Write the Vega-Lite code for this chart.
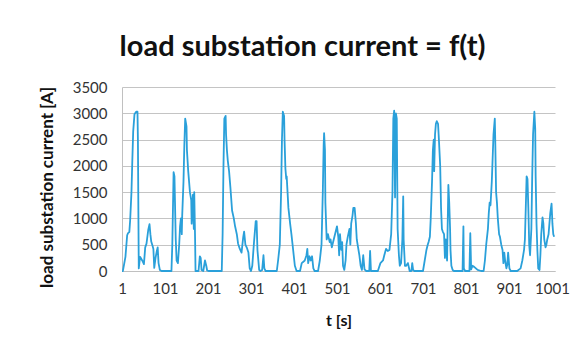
{
  "$schema": "https://vega.github.io/schema/vega-lite/v6.json",
  "width": 433,
  "height": 184,
  "autosize": "none",
  "padding": {"left": 122, "top": 87, "right": 30, "bottom": 82},
  "background": "white",
  "title": {
    "text": "load substation current = f(t)",
    "font": "Lato",
    "fontSize": 29,
    "fontWeight": "bold",
    "color": "#111111",
    "anchor": "middle",
    "dx": -36,
    "offset": 18
  },
  "data": {
    "values": [
      {"t": 1, "current": 0}, {"t": 3, "current": 0}, {"t": 9, "current": 270}, {"t": 13, "current": 680},
      {"t": 15, "current": 720}, {"t": 18, "current": 740}, {"t": 20, "current": 970}, {"t": 23, "current": 1500},
      {"t": 25, "current": 2100}, {"t": 27, "current": 2650}, {"t": 30, "current": 2980}, {"t": 34, "current": 3030},
      {"t": 37, "current": 3030}, {"t": 38, "current": 2500}, {"t": 40, "current": 50}, {"t": 43, "current": 270},
      {"t": 48, "current": 200}, {"t": 52, "current": 130}, {"t": 55, "current": 450}, {"t": 58, "current": 520},
      {"t": 62, "current": 780}, {"t": 65, "current": 890}, {"t": 67, "current": 700}, {"t": 69, "current": 560},
      {"t": 72, "current": 480}, {"t": 74, "current": 420}, {"t": 76, "current": 60}, {"t": 79, "current": 250},
      {"t": 82, "current": 380}, {"t": 84, "current": 450}, {"t": 86, "current": 150}, {"t": 89, "current": 20},
      {"t": 93, "current": 0}, {"t": 116, "current": 0}, {"t": 118, "current": 500}, {"t": 121, "current": 1880},
      {"t": 123, "current": 1800}, {"t": 126, "current": 600}, {"t": 128, "current": 200}, {"t": 131, "current": 150},
      {"t": 134, "current": 500}, {"t": 136, "current": 850}, {"t": 138, "current": 1000}, {"t": 140, "current": 700},
      {"t": 141, "current": 1050}, {"t": 144, "current": 1700}, {"t": 146, "current": 2400}, {"t": 148, "current": 2900},
      {"t": 151, "current": 2750}, {"t": 152, "current": 2300}, {"t": 155, "current": 1900}, {"t": 159, "current": 1500},
      {"t": 162, "current": 1350}, {"t": 163, "current": 900}, {"t": 166, "current": 1450}, {"t": 168, "current": 800},
      {"t": 169, "current": 1500}, {"t": 171, "current": 600}, {"t": 172, "current": 0}, {"t": 179, "current": 0},
      {"t": 182, "current": 280}, {"t": 184, "current": 250}, {"t": 186, "current": 20}, {"t": 190, "current": 0},
      {"t": 194, "current": 200}, {"t": 197, "current": 100}, {"t": 199, "current": 10}, {"t": 202, "current": 0},
      {"t": 233, "current": 0}, {"t": 235, "current": 700}, {"t": 237, "current": 2000}, {"t": 239, "current": 2900},
      {"t": 242, "current": 2950}, {"t": 243, "current": 2600}, {"t": 245, "current": 2300}, {"t": 247, "current": 2100},
      {"t": 250, "current": 1900}, {"t": 253, "current": 1600}, {"t": 257, "current": 1150}, {"t": 261, "current": 1000},
      {"t": 264, "current": 850}, {"t": 268, "current": 700}, {"t": 271, "current": 520}, {"t": 275, "current": 420},
      {"t": 279, "current": 350}, {"t": 283, "current": 650}, {"t": 285, "current": 750}, {"t": 288, "current": 500},
      {"t": 292, "current": 430}, {"t": 295, "current": 350}, {"t": 298, "current": 50}, {"t": 301, "current": 0},
      {"t": 304, "current": 100}, {"t": 308, "current": 550}, {"t": 312, "current": 950}, {"t": 314, "current": 950},
      {"t": 316, "current": 400}, {"t": 320, "current": 20}, {"t": 323, "current": 0}, {"t": 327, "current": 20},
      {"t": 330, "current": 300}, {"t": 332, "current": 50}, {"t": 335, "current": 0}, {"t": 361, "current": 0},
      {"t": 364, "current": 200}, {"t": 368, "current": 500}, {"t": 371, "current": 1500}, {"t": 373, "current": 2500},
      {"t": 375, "current": 3030}, {"t": 378, "current": 2950}, {"t": 379, "current": 2500}, {"t": 381, "current": 1950},
      {"t": 383, "current": 1750}, {"t": 384, "current": 1800}, {"t": 388, "current": 1200}, {"t": 392, "current": 900},
      {"t": 395, "current": 700}, {"t": 399, "current": 400}, {"t": 403, "current": 100}, {"t": 407, "current": 0},
      {"t": 415, "current": 0}, {"t": 419, "current": 150}, {"t": 422, "current": 170}, {"t": 426, "current": 200},
      {"t": 430, "current": 300}, {"t": 432, "current": 420}, {"t": 434, "current": 150}, {"t": 437, "current": 280},
      {"t": 440, "current": 200}, {"t": 443, "current": 280}, {"t": 446, "current": 50}, {"t": 449, "current": 0},
      {"t": 457, "current": 0}, {"t": 461, "current": 200}, {"t": 465, "current": 500}, {"t": 468, "current": 1500},
      {"t": 470, "current": 2400}, {"t": 471, "current": 2620}, {"t": 473, "current": 2300}, {"t": 474, "current": 1300},
      {"t": 477, "current": 600}, {"t": 480, "current": 700}, {"t": 484, "current": 550}, {"t": 486, "current": 600},
      {"t": 489, "current": 450}, {"t": 492, "current": 550}, {"t": 495, "current": 650}, {"t": 498, "current": 750},
      {"t": 501, "current": 850}, {"t": 504, "current": 650}, {"t": 506, "current": 300}, {"t": 508, "current": 700},
      {"t": 511, "current": 400}, {"t": 513, "current": 550}, {"t": 515, "current": 100}, {"t": 518, "current": 20},
      {"t": 521, "current": 200}, {"t": 523, "current": 500}, {"t": 526, "current": 650}, {"t": 530, "current": 800},
      {"t": 532, "current": 500}, {"t": 534, "current": 900}, {"t": 537, "current": 1050}, {"t": 539, "current": 1200},
      {"t": 542, "current": 1200}, {"t": 545, "current": 900}, {"t": 547, "current": 600}, {"t": 550, "current": 450},
      {"t": 553, "current": 300}, {"t": 556, "current": 100}, {"t": 559, "current": 20}, {"t": 562, "current": 300},
      {"t": 565, "current": 30}, {"t": 569, "current": 0}, {"t": 576, "current": 0}, {"t": 578, "current": 380},
      {"t": 580, "current": 0}, {"t": 596, "current": 0}, {"t": 602, "current": 150}, {"t": 608, "current": 200},
      {"t": 611, "current": 300}, {"t": 615, "current": 420}, {"t": 619, "current": 380}, {"t": 623, "current": 400},
      {"t": 627, "current": 700}, {"t": 630, "current": 1500}, {"t": 632, "current": 2900}, {"t": 634, "current": 3050},
      {"t": 636, "current": 1400}, {"t": 638, "current": 3000}, {"t": 640, "current": 2900}, {"t": 642, "current": 800},
      {"t": 645, "current": 300}, {"t": 647, "current": 100}, {"t": 650, "current": 150}, {"t": 653, "current": 600},
      {"t": 655, "current": 1420}, {"t": 656, "current": 600}, {"t": 659, "current": 100}, {"t": 662, "current": 100},
      {"t": 666, "current": 150}, {"t": 670, "current": 0}, {"t": 674, "current": 0}, {"t": 676, "current": 150},
      {"t": 678, "current": 20}, {"t": 681, "current": 0}, {"t": 701, "current": 0}, {"t": 705, "current": 200},
      {"t": 709, "current": 400}, {"t": 712, "current": 500}, {"t": 714, "current": 550}, {"t": 717, "current": 650},
      {"t": 719, "current": 1000}, {"t": 722, "current": 1700}, {"t": 724, "current": 2300}, {"t": 726, "current": 2500},
      {"t": 727, "current": 1900}, {"t": 729, "current": 2600}, {"t": 731, "current": 2800}, {"t": 733, "current": 2850},
      {"t": 736, "current": 2800}, {"t": 738, "current": 2500}, {"t": 741, "current": 2000}, {"t": 743, "current": 1200},
      {"t": 745, "current": 800}, {"t": 747, "current": 750}, {"t": 750, "current": 700}, {"t": 752, "current": 250},
      {"t": 754, "current": 600}, {"t": 757, "current": 200}, {"t": 760, "current": 1640}, {"t": 762, "current": 1300},
      {"t": 764, "current": 800}, {"t": 765, "current": 400}, {"t": 767, "current": 100}, {"t": 770, "current": 20},
      {"t": 773, "current": 0}, {"t": 793, "current": 0}, {"t": 795, "current": 850}, {"t": 796, "current": 50},
      {"t": 799, "current": 0}, {"t": 809, "current": 0}, {"t": 811, "current": 720}, {"t": 813, "current": 30},
      {"t": 816, "current": 100}, {"t": 820, "current": 80}, {"t": 828, "current": 20}, {"t": 836, "current": 0},
      {"t": 842, "current": 0}, {"t": 845, "current": 200}, {"t": 848, "current": 500}, {"t": 852, "current": 800},
      {"t": 854, "current": 1100}, {"t": 856, "current": 1300}, {"t": 858, "current": 1250}, {"t": 861, "current": 1700},
      {"t": 863, "current": 2150}, {"t": 865, "current": 2600}, {"t": 868, "current": 2900}, {"t": 869, "current": 2500},
      {"t": 871, "current": 1500}, {"t": 873, "current": 1300}, {"t": 875, "current": 1000}, {"t": 878, "current": 700},
      {"t": 880, "current": 650}, {"t": 883, "current": 500}, {"t": 886, "current": 400}, {"t": 888, "current": 150},
      {"t": 890, "current": 350}, {"t": 892, "current": 200}, {"t": 895, "current": 50}, {"t": 897, "current": 120},
      {"t": 899, "current": 350}, {"t": 902, "current": 50}, {"t": 905, "current": 0}, {"t": 920, "current": 0},
      {"t": 928, "current": 50}, {"t": 932, "current": 200}, {"t": 936, "current": 400}, {"t": 938, "current": 600},
      {"t": 940, "current": 1200}, {"t": 942, "current": 1800}, {"t": 944, "current": 1750}, {"t": 946, "current": 1200},
      {"t": 948, "current": 500}, {"t": 950, "current": 300}, {"t": 953, "current": 800}, {"t": 955, "current": 1800},
      {"t": 957, "current": 2600}, {"t": 960, "current": 3030}, {"t": 962, "current": 2700}, {"t": 963, "current": 1800},
      {"t": 965, "current": 900}, {"t": 967, "current": 400}, {"t": 969, "current": 50}, {"t": 972, "current": 20},
      {"t": 974, "current": 300}, {"t": 976, "current": 700}, {"t": 979, "current": 1020}, {"t": 981, "current": 900},
      {"t": 983, "current": 600}, {"t": 986, "current": 450}, {"t": 988, "current": 500}, {"t": 990, "current": 600},
      {"t": 993, "current": 700}, {"t": 995, "current": 900}, {"t": 997, "current": 1100}, {"t": 1000, "current": 1280},
      {"t": 1002, "current": 900}, {"t": 1004, "current": 700}, {"t": 1006, "current": 650}
    ]
  },
  "mark": {"type": "line", "color": "#2aa0da", "strokeWidth": 1.8, "strokeJoin": "round"},
  "encoding": {
    "x": {
      "field": "t",
      "type": "quantitative",
      "scale": {"domain": [1, 1008], "nice": false, "zero": false},
      "axis": {
        "title": "t [s]",
        "format": "d",
        "values": [1, 101, 201, 301, 401, 501, 601, 701, 801, 901, 1001],
        "grid": false,
        "ticks": false,
        "labelPadding": 10,
        "titlePadding": 16,
        "labelFlush": false
      }
    },
    "y": {
      "field": "current",
      "type": "quantitative",
      "scale": {"domain": [0, 3500], "nice": false},
      "axis": {
        "title": "load substation current [A]",
        "format": "d",
        "values": [0, 500, 1000, 1500, 2000, 2500, 3000, 3500],
        "ticks": false,
        "labelPadding": 15,
        "titlePadding": 16,
        "titleFontSize": 17,
        "titleY": 100
      }
    }
  },
  "config": {
    "view": {"stroke": null},
    "axis": {
      "labelFont": "Lato",
      "labelFontSize": 15,
      "labelColor": "#333333",
      "titleFont": "Lato",
      "titleFontSize": 16,
      "titleFontWeight": "bold",
      "titleColor": "#111111",
      "domainColor": "#c0c0c0",
      "domainWidth": 1,
      "gridColor": "#c4c4c4",
      "gridWidth": 1
    }
  }
}
